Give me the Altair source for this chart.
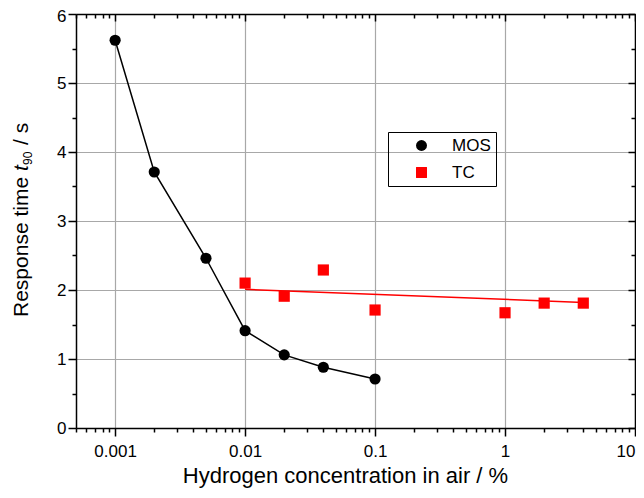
import altair as alt
import pandas as pd

# ---- data ----
mos_conc = [0.001, 0.002, 0.005, 0.01, 0.02, 0.04, 0.1]
mos_time = [5.62, 3.71, 2.46, 1.41, 1.06, 0.88, 0.71]
tc_conc = [0.01, 0.02, 0.04, 0.1, 1, 2, 4]
tc_time = [2.10, 1.91, 2.29, 1.71, 1.67, 1.81, 1.81]
fit_conc = [0.01, 4]
fit_time = [2.01, 1.82]
series_names = ["MOS", "TC"]
series_colors = ["#000000", "#ff0000"]
series_shapes = ["circle", "square"]
x_major = [0.001, 0.01, 0.1, 1, 10]
x_minor = [0.0005, 0.0006, 0.0007, 0.0008, 0.0009,
           0.002, 0.003, 0.004, 0.005, 0.006, 0.007, 0.008, 0.009,
           0.02, 0.03, 0.04, 0.05, 0.06, 0.07, 0.08, 0.09,
           0.2, 0.3, 0.4, 0.5, 0.6, 0.7, 0.8, 0.9,
           2, 3, 4, 5, 6, 7, 8, 9]
y_major = [0, 1, 2, 3, 4, 5, 6]
y_minor = [0.5, 1.5, 2.5, 3.5, 4.5, 5.5]
x_title = "Hydrogen concentration in air / %"
y_title_parts = ["Response time", "t", "90", "/ s"]

FONT = "Liberation Sans"
W, H = 559, 414

mos_df = pd.DataFrame({"conc": mos_conc, "time": mos_time, "series": series_names[0]})
tc_df = pd.DataFrame({"conc": tc_conc, "time": tc_time, "series": series_names[1]})
pts_df = pd.concat([mos_df, tc_df], ignore_index=True)
fit_df = pd.DataFrame({"conc": fit_conc, "time": fit_time})

xs = alt.Scale(type="log", domain=[0.0005, 10], nice=False)
ys = alt.Scale(domain=[0, 6], nice=False, zero=False)


def axis(orient, values, size, labels=False, grid=False, domain=False, offset=0, **kw):
    return alt.Axis(orient=orient, values=values, tickSize=size, labels=labels, grid=grid,
                    domain=domain, offset=offset, tickColor="black", tickWidth=1.5,
                    domainColor="black", domainWidth=1.5, title=None, **kw)


lab = dict(labelFont=FONT, labelFontSize=17, labelColor="black")

# major bottom/left axes + MOS line
layer_a = alt.Chart(mos_df).mark_line(color="black", strokeWidth=1.5).encode(
    x=alt.X("conc:Q", scale=xs, axis=alt.Axis(
        orient="bottom", values=x_major, format="~g", tickSize=8, tickColor="black", tickWidth=1.5,
        domainColor="black", domainWidth=1.5, grid=True, gridColor="#a8a8a8", gridWidth=1.2,
        labelPadding=7, labelFlush=True, labelOverlap=False, **lab,
        title=x_title, titleFont=FONT, titleFontSize=22, titleFontWeight="normal",
        titleColor="black", titlePadding=6, titleX=269)),
    y=alt.Y("time:Q", scale=ys, axis=alt.Axis(
        orient="left", values=y_major, tickSize=8, tickColor="black", tickWidth=1.5,
        domainColor="black", domainWidth=1.5, grid=True, gridColor="#a8a8a8", gridWidth=1.2,
        labelPadding=2, labelFlush=False, labelOverlap=False, **lab, title=None,
        labelOffset={"condition": {"test": "datum.value == 6", "value": 2}, "value": 0})),
)

# minor ticks bottom/left
layer_b = alt.Chart(mos_df).mark_point(opacity=0).encode(
    x=alt.X("conc:Q", scale=xs, axis=axis("bottom", x_minor, 4)),
    y=alt.Y("time:Q", scale=ys, axis=axis("left", y_minor, 4)),
)

# major ticks top/right (inward)
layer_c = alt.Chart(mos_df).mark_point(opacity=0).encode(
    x=alt.X("conc:Q", scale=xs, axis=axis("bottom", x_major, 7, domain=True, offset=-H)),
    y=alt.Y("time:Q", scale=ys, axis=axis("left", y_major, 7, domain=True, offset=-W)),
)

# minor ticks top/right (inward)
layer_d = alt.Chart(mos_df).mark_point(opacity=0).encode(
    x=alt.X("conc:Q", scale=xs, axis=axis("bottom", x_minor, 4, offset=-H)),
    y=alt.Y("time:Q", scale=ys, axis=axis("left", y_minor, 4, offset=-W)),
)

fit = alt.Chart(fit_df).mark_line(color="#ff0000", strokeWidth=1.5).encode(
    x=alt.X("conc:Q", scale=xs, axis=None),
    y=alt.Y("time:Q", scale=ys, axis=None),
)

points = alt.Chart(pts_df).mark_point(filled=True, opacity=1, strokeWidth=0).encode(
    x=alt.X("conc:Q", scale=xs, axis=None),
    y=alt.Y("time:Q", scale=ys, axis=None),
    color=alt.Color("series:N", scale=alt.Scale(domain=series_names, range=series_colors),
                    legend=alt.Legend(title=None, orient="none", legendX=312, legendY=118,
                                      strokeColor="black", padding=5, symbolOffset=20,
                                      labelOffset=22, rowPadding=9, symbolSize=120,
                                      labelFont=FONT, labelFontSize=17, labelColor="black",
                                      symbolStrokeWidth=0)),
    shape=alt.Shape("series:N", scale=alt.Scale(domain=series_names, range=series_shapes),
                    legend=alt.Legend(title=None, orient="none", legendX=312, legendY=118)),
    size=alt.value(125),
)

one = pd.DataFrame({"k": [0]})
t1 = alt.Chart(one).mark_text(angle=270, align="left", baseline="middle", font=FONT,
                               fontSize=21, color="black").encode(
    text=alt.value(y_title_parts[0]), x=alt.value(-54), y=alt.value(303))
t2 = alt.Chart(one).mark_text(angle=270, align="left", baseline="middle", font=FONT,
                               fontSize=21, fontStyle="italic", color="black").encode(
    text=alt.value(y_title_parts[1]), x=alt.value(-54), y=alt.value(157))
t3 = alt.Chart(one).mark_text(angle=270, align="left", baseline="middle", font=FONT,
                               fontSize=12, color="black").encode(
    text=alt.value(y_title_parts[2]), x=alt.value(-48), y=alt.value(151))
t4 = alt.Chart(one).mark_text(angle=270, align="left", baseline="middle", font=FONT,
                               fontSize=21, color="black").encode(
    text=alt.value(y_title_parts[3]), x=alt.value(-54), y=alt.value(131))

chart = alt.layer(layer_a, layer_b, layer_c, layer_d, fit, points, t1, t2, t3, t4).resolve_axis(
    x="independent", y="independent"
).properties(
    width=W, height=H,
    autosize=alt.AutoSizeParams(type="none"),
    padding={"left": 68, "top": 6, "right": 1, "bottom": 62},
).configure_view(stroke=None).configure(background="white")

chart.save("out.html", embed_options={"renderer": "svg", "actions": False})
